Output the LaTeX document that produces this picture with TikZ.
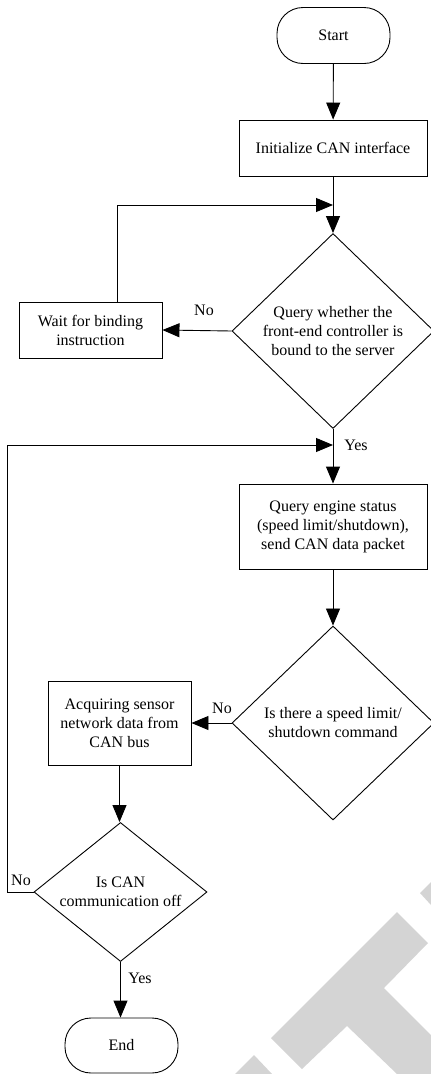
\documentclass[tikz,border=0pt]{standalone}
\usepackage{fontspec}
\setmainfont{Liberation Serif}
\usetikzlibrary{shapes.geometric,arrows.meta,calc}
\begin{document}
\begin{tikzpicture}[x=1pt,y=-1pt,
  every node/.style={font=\fontsize{16}{19}\selectfont, text=black},
  line/.style={draw=black, line width=0.9pt},
  arr/.style={line, -{Triangle[length=17pt,width=14pt]}},
  term/.style={line, rectangle, rounded corners=26pt, minimum width=113pt, minimum height=56pt, inner sep=0pt},
  proc/.style={line, rectangle, align=center, inner sep=0pt},
  dec/.style={line, diamond, align=center, inner sep=0pt},
  lbl/.style={inner sep=0pt},
  wm/.style={fill=black!17}
]
\useasboundingbox (0,0) rectangle (431,1074);
% watermark
\fill[wm] (271,1038) -- (397,912) -- (428,943) -- (384,988) -- (431,1035) -- (431,1074) -- (397,1074) -- (347,1026) -- (302,1069) -- cycle;
\fill[wm] (420,893) -- (431,882) -- (431,905) -- cycle;
\fill[wm] (254,1055) -- (272,1074) -- (235,1074) -- cycle;

\node[term] (start) at (333.5,35.5) {Start};
\node[proc, minimum width=188pt, minimum height=56pt] (init) at (333,148) {Initialize CAN interface};
\node[dec, minimum width=202pt, minimum height=195pt] (d1) at (333,331) {Query whether the\\front-end controller is\\bound to the server};
\node[proc, minimum width=143pt, minimum height=56pt] (wait) at (90.5,330) {Wait for binding\\instruction};
\node[proc, minimum width=188pt, minimum height=85pt] (qe) at (333,526.5) {Query engine status\\(speed limit/shutdown),\\send CAN data packet};
\node[dec, minimum width=202pt, minimum height=194pt] (d2) at (333,723) {Is there a speed limit/\\shutdown command};
\node[proc, minimum width=143pt, minimum height=84pt] (acq) at (119.5,723) {Acquiring sensor\\network data from\\CAN bus};
\node[dec, shape aspect=1.3, minimum width=173pt, minimum height=139pt] (d3) at (120.5,892) {Is CAN\\communication off};
\node[term, minimum height=55pt] (end) at (121.5,1045.5) {End\hspace{27pt}};

\coordinate (j1) at (333,205);
\coordinate (j2) at (333,445);
\coordinate (lft) at (7,892);

\draw[arr] (start) -- (init);
\draw[arr] (init) -- (d1);
\draw[arr] ([xshift=26.5pt]wait.north) |- (j1);
\draw[arr] (d1.west) -- (wait.east);
\draw[arr] (d1.south) -- (qe.north);
\draw[arr] (qe) -- (d2);
\draw[arr] (d2.west) -- (d2.west -| acq.east);
\draw[arr] (acq.south) -- (acq.south |- d3.north);
\draw[arr] (d3.west) -- (lft) |- (j2);
\draw[arr] (d3.south) -- (d3.south |- end.north);

\node[lbl] (no1) at (204,310) {No};
\node[lbl] (yes1) at (356,445) {Yes};
\node[lbl] (no2) at (222,708) {No};
\node[lbl] (no3) at (21,880) {No};
\node[lbl] (yes3) at (140,978) {Yes};
\end{tikzpicture}
\end{document}
